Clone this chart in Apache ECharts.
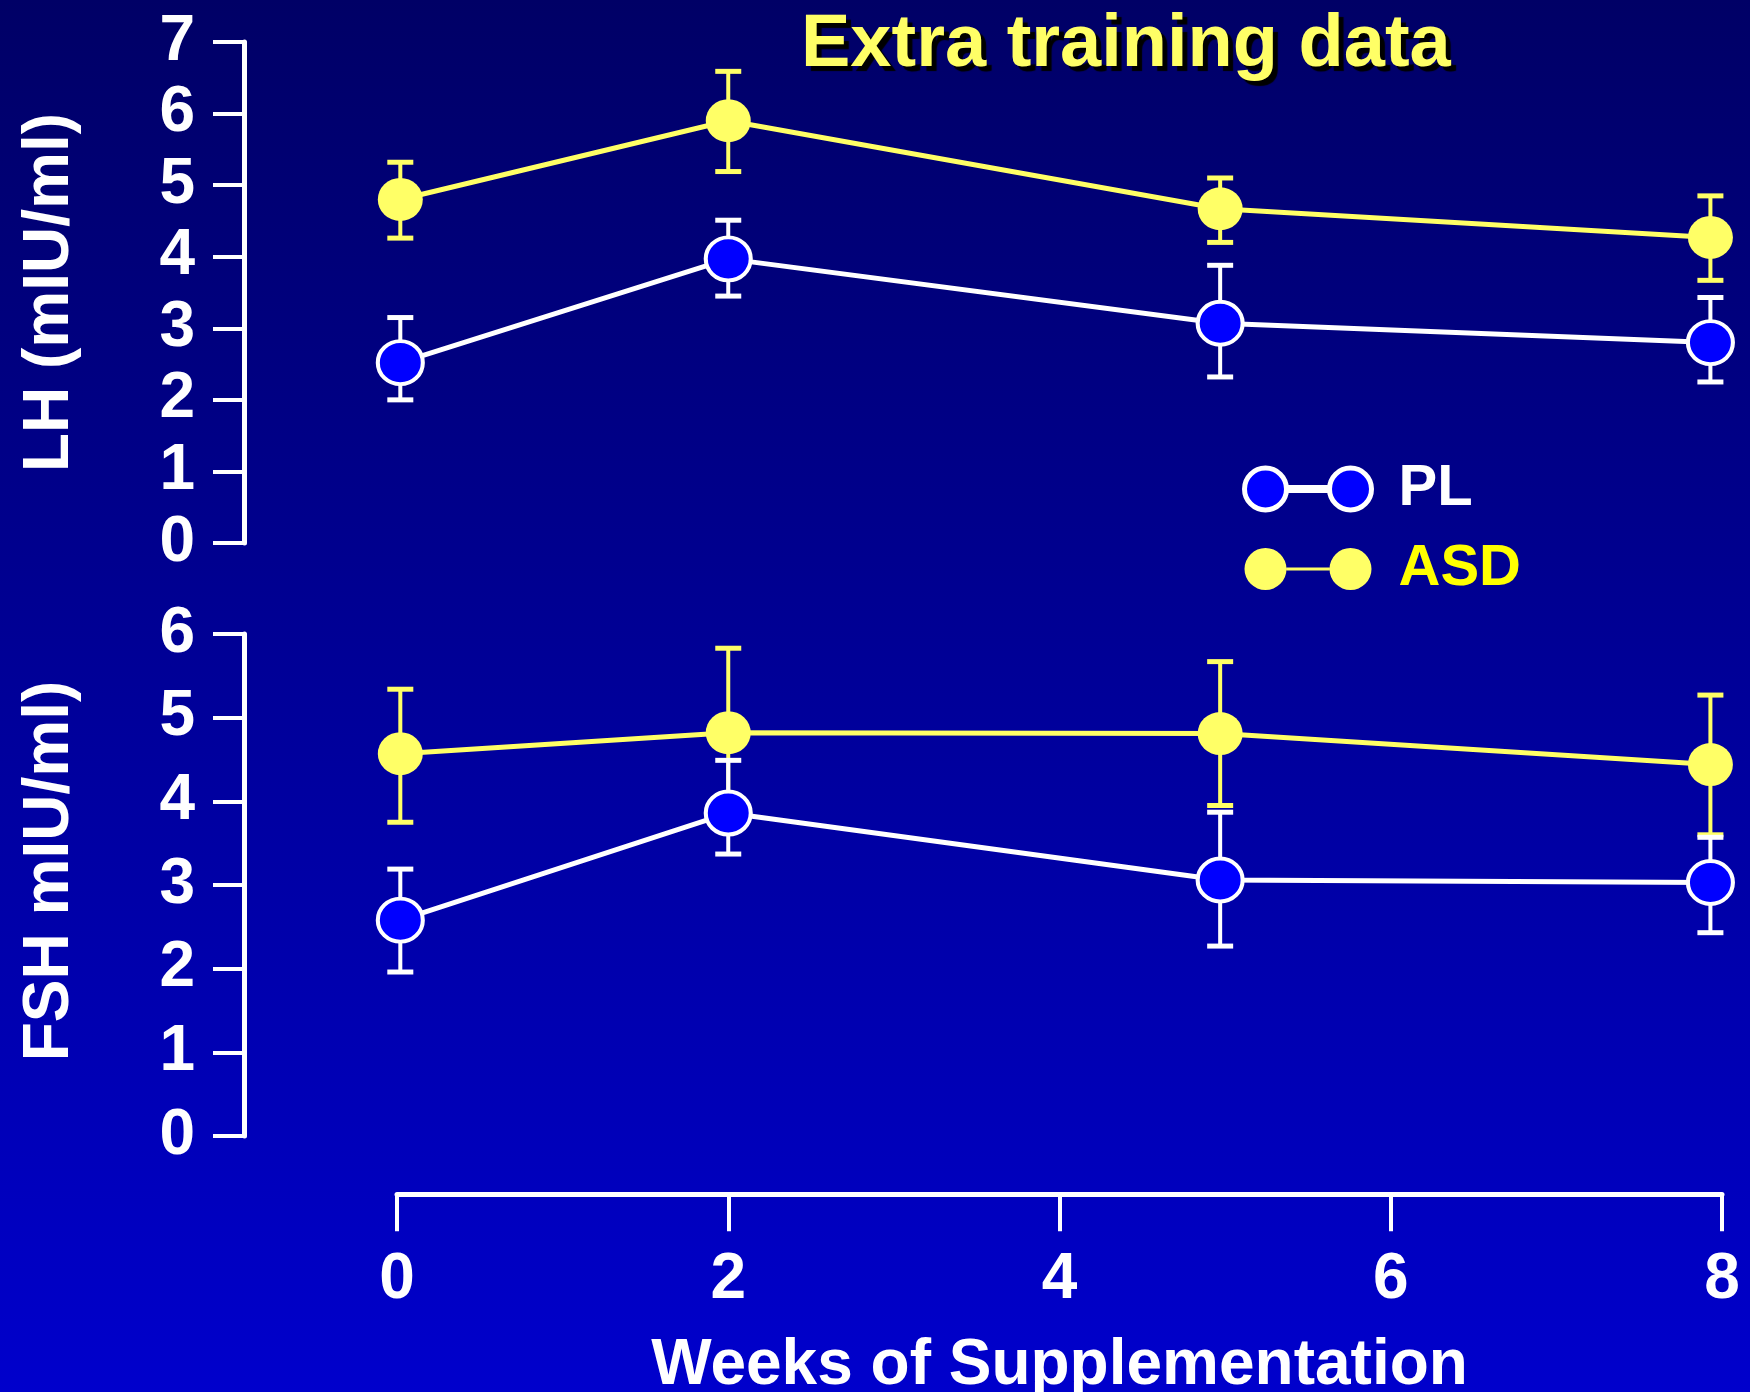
<!DOCTYPE html>
<html><head><meta charset="utf-8">
<script src="https://cdn.jsdelivr.net/npm/echarts@6/dist/echarts.min.js"></script>
<style>html,body{margin:0;padding:0;background:#000066;}#c{width:1750px;height:1392px;}</style>
</head><body><div id="c"></div>
<script>
// ---- data ----
const weeks = [0.02, 2.0, 4.97, 7.93];
const xTicks = [0, 2, 4, 6, 8];
const lhTicks = [0, 1, 2, 3, 4, 5, 6, 7];
const fshTicks = [0, 1, 2, 3, 4, 5, 6];

const lhPL = [2.52, 3.97, 3.07, 2.80];
const lhPLHigh = [3.15, 4.51, 3.88, 3.43];
const lhPLLow = [2.00, 3.45, 2.32, 2.25];
const lhASD = [4.80, 5.90, 4.67, 4.27];
const lhASDHigh = [5.32, 6.59, 5.10, 4.85];
const lhASDLow = [4.26, 5.19, 4.20, 3.67];

const fshPL = [2.58, 3.86, 3.06, 3.03];
const fshPLHigh = [3.19, 4.49, 3.87, 3.57];
const fshPLLow = [1.96, 3.37, 2.27, 2.43];
const fshASD = [4.57, 4.82, 4.81, 4.44];
const fshASDHigh = [5.34, 5.83, 5.67, 5.27];
const fshASDLow = [3.75, 3.81, 3.95, 3.60];

const seriesNames = ['PL', 'ASD'];
const titleText = 'Extra training data';
const lhName = 'LH (mIU/ml)';
const fshName = 'FSH mIU/ml)';
const xName = 'Weeks of Supplementation';

// ---- styles ----
const FONT = "'Liberation Sans', Arial, Helvetica, sans-serif";
const YEL = '#FFFF66';
const WHITE = '#FFFFFF';
const BLUE = '#0000FF';

function pts(vals) { return weeks.map((w, i) => [w, vals[i]]); }
function errData(hi, lo) { return weeks.map((w, i) => [w, hi[i], lo[i]]); }

function errRender(color) {
  return function (params, api) {
    const x = api.value(0), hi = api.value(1), lo = api.value(2);
    const a = api.coord([x, hi]), b = api.coord([x, lo]);
    const cw = 13;
    return {
      type: 'group',
      children: [
        { type: 'line', shape: { x1: a[0], y1: a[1], x2: b[0], y2: b[1] }, style: { stroke: color, lineWidth: 4 } },
        { type: 'line', shape: { x1: a[0] - cw, y1: a[1], x2: a[0] + cw, y2: a[1] }, style: { stroke: color, lineWidth: 5 } },
        { type: 'line', shape: { x1: b[0] - cw, y1: b[1], x2: b[0] + cw, y2: b[1] }, style: { stroke: color, lineWidth: 5 } }
      ]
    };
  };
}

function errSeries(idx, hi, lo, color) {
  return {
    type: 'custom', xAxisIndex: idx, yAxisIndex: idx, z: 1,
    renderItem: errRender(color), data: errData(hi, lo), silent: true
  };
}

function lineSeries(idx, name, vals) {
  const isPL = name === 'PL';
  return {
    type: 'line', name: name, xAxisIndex: idx, yAxisIndex: idx, z: 3,
    data: pts(vals),
    symbol: 'circle', symbolSize: [45, 43],
    lineStyle: { color: isPL ? WHITE : YEL, width: 5 },
    itemStyle: isPL ? { color: BLUE, borderColor: WHITE, borderWidth: 4 } : { color: YEL, borderWidth: 0 },
    emphasis: { disabled: true }
  };
}

function hiddenX(idx) {
  return { type: 'value', gridIndex: idx, min: 0, max: 8, interval: 2, show: false };
}

function yAx(idx, max, name, ticks, namePad) {
  return {
    type: 'value', gridIndex: idx, min: ticks[0], max: max, interval: 1, offset: 153,
    position: 'left',
    splitLine: { show: false },
    axisLine: { show: true, onZero: false, lineStyle: { color: WHITE, width: 5 } },
    axisTick: { show: true, length: 31, lineStyle: { color: WHITE, width: 4 } },
    axisLabel: { color: WHITE, fontSize: 64, fontWeight: 'bold', fontFamily: FONT, margin: 49 },
    name: name, nameLocation: 'middle', nameRotate: 90, nameGap: 162,
    nameTextStyle: { color: WHITE, fontSize: 64, fontWeight: 'bold', fontFamily: FONT, padding: namePad }
  };
}

const legendIcon = 'path://M0,21 A21,21 0 1,1 42,21 A21,21 0 1,1 0,21 Z M85,21 A21,21 0 1,1 127,21 A21,21 0 1,1 85,21 Z M42,19.5 L85,19.5 L85,22.5 L42,22.5 Z';

const option = {
  animation: false,
  backgroundColor: {
    type: 'linear', x: 0, y: 0, x2: 0, y2: 1,
    colorStops: [{ offset: 0, color: '#000066' }, { offset: 1, color: '#0000CC' }]
  },
  title: {
    text: titleText, left: 796, top: 4,
    textStyle: {
      color: YEL, fontSize: 74, fontWeight: 'bold', fontFamily: FONT,
      textShadowColor: '#000000', textShadowOffsetX: 5, textShadowOffsetY: 5, textShadowBlur: 1
    }
  },
  legend: {
    orient: 'vertical', left: 1237, top: 455, itemWidth: 127, itemHeight: 42, itemGap: 22,
    selectedMode: false,
    data: [
      { name: seriesNames[0], icon: legendIcon, itemStyle: { color: BLUE, borderColor: WHITE, borderWidth: 5 },
        textStyle: { color: WHITE } },
      { name: seriesNames[1], icon: legendIcon, itemStyle: { color: YEL, borderWidth: 0 },
        textStyle: { color: '#FFFF00' } }
    ],
    textStyle: { fontSize: 58, fontWeight: 'bold', fontFamily: FONT, lineHeight: 42, padding: [0, 0, 0, 22] }
  },
  grid: [
    { left: 397, width: 1325, top: 42, height: 501 },
    { left: 397, width: 1325, top: 634, height: 502 },
    { left: 397, width: 1325, top: 1194, height: 1 }
  ],
  xAxis: [
    hiddenX(0), hiddenX(1),
    {
      type: 'value', gridIndex: 2, min: xTicks[0], max: xTicks[xTicks.length - 1], interval: 2,
      position: 'bottom', splitLine: { show: false },
      axisLine: { show: true, onZero: false, lineStyle: { color: WHITE, width: 5 } },
      axisTick: { show: true, length: 37, lineStyle: { color: WHITE, width: 4 } },
      axisLabel: { color: WHITE, fontSize: 64, fontWeight: 'bold', fontFamily: FONT, margin: 54 },
      name: xName, nameLocation: 'middle', nameGap: 140,
      nameTextStyle: { color: WHITE, fontSize: 64, fontWeight: 'bold', fontFamily: FONT }
    }
  ],
  yAxis: [
    yAx(0, lhTicks[lhTicks.length - 1], lhName, lhTicks, [0, 0, 0, 0]),
    yAx(1, fshTicks[fshTicks.length - 1], fshName, fshTicks, [0, 0, 0, 28]),
    { type: 'value', gridIndex: 2, show: false, min: 0, max: 1 }
  ],
  series: [
    errSeries(0, lhPLHigh, lhPLLow, WHITE),
    errSeries(0, lhASDHigh, lhASDLow, YEL),
    lineSeries(0, 'PL', lhPL),
    lineSeries(0, 'ASD', lhASD),
    errSeries(1, fshASDHigh, fshASDLow, YEL),
    errSeries(1, fshPLHigh, fshPLLow, WHITE),
    lineSeries(1, 'ASD', fshASD),
    lineSeries(1, 'PL', fshPL)
  ]
};

const chart = echarts.init(document.getElementById('c'), null, { renderer: 'canvas' });
chart.setOption(option);
</script>
</body></html>
